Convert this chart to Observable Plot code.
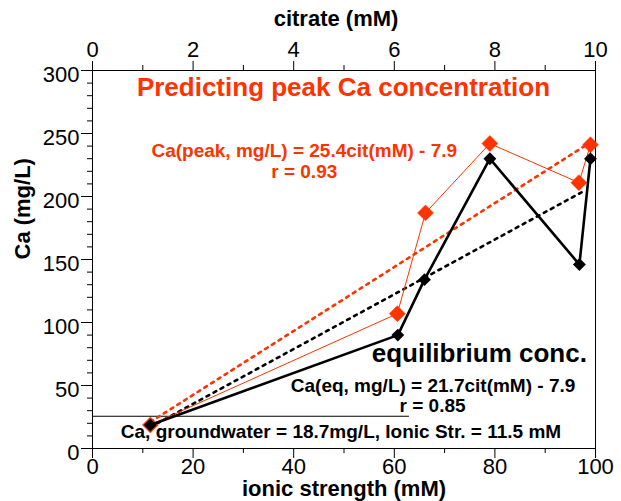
<!DOCTYPE html>
<html><head><meta charset="utf-8">
<script src="https://cdn.jsdelivr.net/npm/d3@7"></script>
<script src="https://cdn.jsdelivr.net/npm/@observablehq/plot@0.6"></script>
<style>body{margin:0;background:#fff}</style>
</head><body><div id="chart"></div>
<script>
// ---- data ----
const ionicEq   = [11.5, 60.7, 66.0, 79.0, 96.8, 99.0];
const caEq      = [18.7, 90, 134, 230, 146, 230];
const ionicPeak = [11.5, 60.6, 66.2, 79.0, 96.7, 99.0];
const caPeak    = [18.7, 107, 187, 242, 211, 241];
const fitPeakX  = [11.5, 99];
const fitPeakY  = [21, 243];
const fitEqX    = [11.5, 98];
const fitEqY    = [17, 205];
const groundwaterRuleY = [25.6];
const groundwaterRuleX = [0, 63];
const ionicTicks    = [0, 20, 40, 60, 80, 100];
const ionicMinor    = [10, 30, 50, 70, 90];
const citrateTicks  = [0, 2, 4, 6, 8, 10];
const citrateMinor  = [1, 3, 5, 7, 9];
const caTicks = [0, 50, 100, 150, 200, 250, 300];
const caMinor = [10,20,30,40,60,70,80,90,110,120,130,140,160,170,180,190,210,220,230,240,260,270,280,290];
const citrateToIonic = 10; // top axis: citrate (mM) shares the frame with ionic strength (mM)

const RED = "#ff3300";
const eqPts = ionicEq.map((x, i) => ({x, y: caEq[i]}));
const peakPts = ionicPeak.map((x, i) => ({x, y: caPeak[i]}));
const fitPeak = fitPeakX.map((x, i) => ({x, y: fitPeakY[i]}));
const fitEq = fitEqX.map((x, i) => ({x, y: fitEqY[i]}));

const bold = {fontWeight: "bold"};
const chart = Plot.plot({
  width: 621, height: 501,
  marginLeft: 92, marginRight: 26, marginTop: 70, marginBottom: 53,
  style: {fontFamily: "'Liberation Sans', Arial, Helvetica, sans-serif", fontSize: "22px", color: "black", background: "white"},
  x: {domain: [0, 100]},
  y: {domain: [0, 300]},
  marks: [
    Plot.frame({stroke: "black"}),
    // bottom axis
    Plot.axisX(ionicTicks, {anchor: "bottom", tickSize: 10, tickPadding: 0, label: null, fontSize: 22}),
    Plot.axisX(ionicMinor, {anchor: "bottom", tickSize: 5, fill: "none", label: null}),
    // top axis (citrate)
    Plot.axisX(citrateTicks.map(c => c * citrateToIonic), {anchor: "top", tickSize: 10, tickPadding: 4, tickFormat: d => String(d / citrateToIonic), label: null, fontSize: 22}),
    Plot.axisX(citrateMinor.map(c => c * citrateToIonic), {anchor: "top", tickSize: 6, fill: "none", label: null}),
    // left axis
    Plot.axisY(caTicks, {anchor: "left", tickSize: 11, fill: "none", label: null}),
    Plot.axisY(caTicks, {anchor: "left", tickSize: 0, tickPadding: 13, dy: 4, stroke: "none", label: null, fontSize: 22}),
    Plot.axisY(caMinor, {anchor: "left", tickSize: 5, fill: "none", label: null}),
    // axis titles
    Plot.text(["citrate (mM)"], {frameAnchor: "top", dx: -8, dy: -45, lineAnchor: "bottom", fontSize: 22, ...bold}),
    Plot.text(["ionic strength (mM)"], {frameAnchor: "bottom", dy: 47, lineAnchor: "bottom", fontSize: 22, ...bold}),
    Plot.text(["Ca (mg/L)"], {frameAnchor: "left", dx: -70, rotate: -90, fontSize: 22, ...bold}),
    // groundwater reference line
    Plot.ruleY(groundwaterRuleY, {x1: groundwaterRuleX[0], x2: groundwaterRuleX[1], stroke: "black", strokeWidth: 1.2}),
    // fits
    Plot.line(fitPeak, {x: "x", y: "y", stroke: RED, strokeWidth: 2.6, strokeDasharray: "3,5"}),
    Plot.line(fitEq, {x: "x", y: "y", stroke: "black", strokeWidth: 2.6, strokeDasharray: "3,5"}),
    // data
    Plot.line(peakPts, {x: "x", y: "y", stroke: RED, strokeWidth: 1}),
    Plot.dot(peakPts, {x: "x", y: "y", symbol: "diamond2", r: 7.2, fill: RED, stroke: RED, strokeWidth: 0.5}),
    Plot.line(eqPts, {x: "x", y: "y", stroke: "black", strokeWidth: 2.6}),
    Plot.dot(eqPts, {x: "x", y: "y", symbol: "diamond2", r: 5.8, fill: "black"}),
    // annotations
    Plot.text(["Predicting peak Ca concentration"], {x: 49.9, y: 279.4, lineAnchor: "bottom", fill: RED, fontSize: 26, ...bold}),
    Plot.text(["Ca(peak, mg/L) = 25.4cit(mM) - 7.9"], {x: 42.1, y: 231, lineAnchor: "bottom", fill: RED, fontSize: 19, ...bold}),
    Plot.text(["r = 0.93"], {x: 42.1, y: 214.3, lineAnchor: "bottom", fill: RED, fontSize: 19, ...bold}),
    Plot.text(["equilibrium conc."], {x: 76.9, y: 69, lineAnchor: "bottom", fill: "black", fontSize: 26, ...bold}),
    Plot.text(["Ca(eq, mg/L) = 21.7cit(mM) - 7.9"], {x: 67.7, y: 45.2, lineAnchor: "bottom", fill: "black", fontSize: 19, ...bold}),
    Plot.text(["r = 0.85"], {x: 67.6, y: 28.6, lineAnchor: "bottom", fill: "black", fontSize: 19, ...bold}),
    Plot.text(["Ca, groundwater = 18.7mg/L, Ionic Str. = 11.5 mM"], {x: 49.4, y: 8.3, lineAnchor: "bottom", fill: "black", fontSize: 19, ...bold})
  ]
});
document.getElementById("chart").append(chart);
</script>
</body></html>
